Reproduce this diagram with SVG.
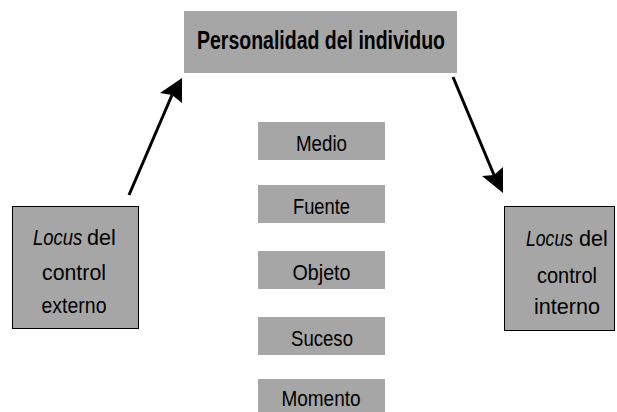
<svg xmlns="http://www.w3.org/2000/svg" width="617" height="412" viewBox="0 0 617 412">
<style>
.box{fill:#a6a6a6}
.side{fill:#a6a6a6;stroke:#000;stroke-width:1}
text{font-family:"Liberation Sans",Arial,sans-serif;fill:#000;text-anchor:middle}
.t{font-size:25px;font-weight:bold}
.s{font-size:21.5px}
.i{font-style:italic;text-anchor:start}
.st{text-anchor:start}
.line{stroke:#000;stroke-width:3;fill:none}
</style>
<rect width="617" height="412" fill="#fff"/>
<g id="top"><rect class="box" x="184" y="11" width="273" height="62"/><text class="t" x="321" y="49" textLength="248" lengthAdjust="spacingAndGlyphs">Personalidad del individuo</text></g>
<g id="left"><rect class="side" x="12.5" y="206.5" width="126" height="122"/>
<text class="s i" transform="translate(33,245) scale(0.86,1)">Locus</text>
<text class="s st" x="87" y="245">del</text>
<text class="s" x="74" y="280" textLength="64" lengthAdjust="spacingAndGlyphs">control</text>
<text class="s" x="74" y="313" textLength="65" lengthAdjust="spacingAndGlyphs">externo</text></g>
<g id="right"><rect class="side" x="504.5" y="206.5" width="110" height="124"/>
<text class="s i" transform="translate(526,246) scale(0.82,1)">Locus</text>
<text class="s st" x="579" y="246">del</text>
<text class="s" x="567" y="283" textLength="60" lengthAdjust="spacingAndGlyphs">control</text>
<text class="s" x="567" y="314" textLength="66" lengthAdjust="spacingAndGlyphs">interno</text></g>
<g id="medio"><rect class="box" x="258" y="122" width="127" height="38"/><text class="s" x="321.5" y="151" textLength="51" lengthAdjust="spacingAndGlyphs">Medio</text></g>
<g id="fuente"><rect class="box" x="258" y="185" width="127" height="38"/><text class="s" x="321.5" y="214" textLength="57" lengthAdjust="spacingAndGlyphs">Fuente</text></g>
<g id="objeto"><rect class="box" x="258" y="251" width="127" height="38"/><text class="s" x="321.5" y="280" textLength="58" lengthAdjust="spacingAndGlyphs">Objeto</text></g>
<g id="suceso"><rect class="box" x="258" y="317" width="127" height="38"/><text class="s" x="322" y="346" textLength="62" lengthAdjust="spacingAndGlyphs">Suceso</text></g>
<g id="momento"><rect class="box" x="258" y="379" width="127" height="33"/><text class="s" x="321" y="406" textLength="79" lengthAdjust="spacingAndGlyphs">Momento</text></g>
<g id="connectors">
<line class="line" x1="129" y1="195" x2="172" y2="95"/>
<path d="M182,78 L182,103 L172,95 L160,93 Z" fill="#000"/>
<line class="line" x1="453" y1="77" x2="494" y2="175"/>
<path d="M503,193 L482,176 L494,175 L503,167 Z" fill="#000"/>
</g>
</svg>
